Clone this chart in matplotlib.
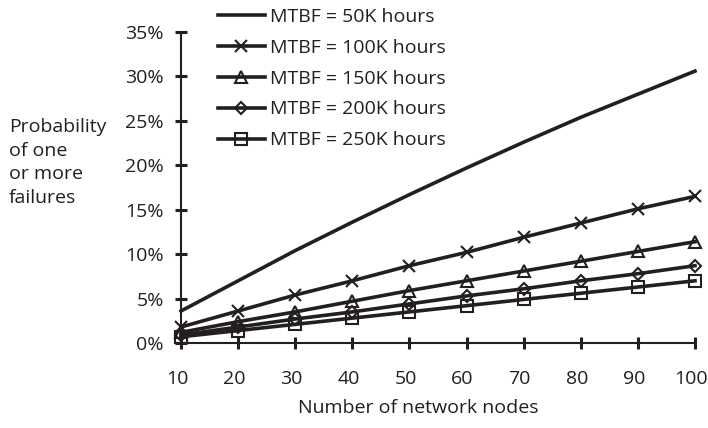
import matplotlib
matplotlib.use("Agg")
import matplotlib.pyplot as plt
from matplotlib.ticker import FuncFormatter
from matplotlib.transforms import ScaledTranslation

plt.rcParams['font.family'] = ['Open Sans', 'DejaVu Sans']

# network size vs probability of at least one node failing (percent)
nodes = [10, 20, 30, 40, 50, 60, 70, 80, 90, 100]
mtbf_50k = [3.6, 7.0, 10.4, 13.6, 16.7, 19.7, 22.6, 25.4, 28.0, 30.6]
mtbf_100k = [1.8, 3.6, 5.4, 7.0, 8.7, 10.2, 11.9, 13.5, 15.1, 16.5]
mtbf_150k = [1.2, 2.4, 3.5, 4.7, 5.9, 7.0, 8.1, 9.2, 10.3, 11.4]
mtbf_200k = [0.9, 1.8, 2.7, 3.5, 4.4, 5.3, 6.1, 7.0, 7.8, 8.7]
mtbf_250k = [0.7, 1.4, 2.1, 2.8, 3.5, 4.2, 4.9, 5.6, 6.3, 7.0]

labels = ["MTBF = 50K hours", "MTBF = 100K hours", "MTBF = 150K hours",
          "MTBF = 200K hours", "MTBF = 250K hours"]
series = [mtbf_50k, mtbf_100k, mtbf_150k, mtbf_200k, mtbf_250k]
markers = [None, 'x', '^', 'D', 's']
msizes = [0, 9, 9, 6, 8]

ink = '#231f20'
fs = 14

fig = plt.figure(figsize=(7.08, 4.28), dpi=100)
ax = fig.add_axes([181/708, 1 - 343/428, (695 - 181)/708, (343 - 32)/428])

for vals, lab, mk, ms in zip(series, labels, markers, msizes):
    ax.plot(nodes, [v/100 for v in vals], color=ink, lw=2.6, marker=mk,
            ms=ms, mew=1.5, mfc='none', mec=ink, label=lab, clip_on=False)

ax.set_xlim(10, 100)
ax.set_ylim(0, 0.35)
ax.set_xticks(nodes)
ax.set_yticks([i*0.05 for i in range(8)])
ax.yaxis.set_major_formatter(FuncFormatter(lambda v, p: "%d%%" % round(v*100)))

for s in ['top', 'right']:
    ax.spines[s].set_visible(False)
for s in ['left', 'bottom']:
    ax.spines[s].set_color(ink)
    ax.spines[s].set_linewidth(1.5)

ax.tick_params(axis='both', direction='inout', length=9, width=2.2,
               color=ink, labelcolor=ink, labelsize=fs)
ax.tick_params(axis='y', pad=8)
ax.tick_params(axis='x', pad=15)

# node counts sit a little left of their ticks
nudge = ScaledTranslation(-4/100, 0, fig.dpi_scale_trans)
for lbl in ax.get_xticklabels():
    lbl.set_transform(lbl.get_transform() + nudge)

ax.set_xlabel("Number of network nodes", fontsize=fs, color=ink)
ax.xaxis.set_label_coords((418 - 181)/514, -(399 - 343)/311)

fig.text(9/708, 1 - 118/428, "Probability\nof one\nor more\nfailures",
         fontsize=fs, color=ink, ha='left', va='top', linespacing=1.4)

fig.legend(loc='upper left', bbox_to_anchor=(218/708, 1 - 8/428), frameon=False,
           fontsize=fs, handlelength=2.4, handletextpad=0.25,
           borderaxespad=0, borderpad=0, labelspacing=0.66, labelcolor=ink)

fig.savefig("out.png", dpi=100)
